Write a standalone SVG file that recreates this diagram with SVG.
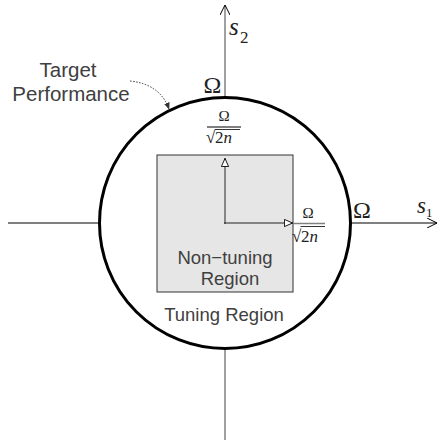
<svg xmlns="http://www.w3.org/2000/svg" width="439" height="442" viewBox="0 0 439 442">
<defs>
<marker id="chev" viewBox="0 0 10 10" refX="10" refY="5" markerWidth="10" markerHeight="10" markerUnits="userSpaceOnUse" orient="auto">
<path d="M0,0 L10,5 L0,10" fill="none" stroke="#000" stroke-width="1"/>
</marker>
<marker id="tri" viewBox="0 0 10 10" refX="10" refY="5" markerWidth="9" markerHeight="9" markerUnits="userSpaceOnUse" orient="auto">
<path d="M0.5,1 L9.5,5 L0.5,9 Z" fill="#fff" stroke="#000" stroke-width="1"/>
</marker>
<marker id="dotarr" viewBox="0 0 10 10" refX="9" refY="5" markerWidth="7" markerHeight="7" markerUnits="userSpaceOnUse" orient="auto">
<path d="M0,1 L10,5 L0,9 Z" fill="#333"/>
</marker>
</defs>
<style>
.lbl{font-family:"Liberation Sans",Arial,sans-serif;fill:#404040;text-anchor:middle}
.math{font-family:"Liberation Serif","Times New Roman",serif;fill:#222}
.it{font-style:italic}
</style>
<rect width="439" height="442" fill="#fff"/>
<g id="connectors">
<line x1="225" y1="98" x2="225" y2="5" stroke="#808080" stroke-width="1.5" marker-end="url(#chev)"/>
<line x1="225" y1="349" x2="225" y2="440" stroke="#808080" stroke-width="1.5"/>
<line x1="8" y1="223" x2="99" y2="223" stroke="#000" stroke-width="1.2"/>
<line x1="350" y1="223" x2="437" y2="223" stroke="#000" stroke-width="1.2" marker-end="url(#chev)"/>
<path d="M130,81 Q160,84 169,109" fill="none" stroke="#333" stroke-width="1" stroke-dasharray="1.5,1.5" marker-end="url(#dotarr)"/>
</g>
<g id="tuning-region">
<circle cx="225" cy="223" r="125.5" fill="none" stroke="#000" stroke-width="3"/>
<text class="lbl" x="224" y="321" font-size="18.5">Tuning Region</text>
</g>
<g id="non-tuning-region">
<rect x="157" y="155" width="136" height="137" fill="#e6e6e6" stroke="#333" stroke-width="1"/>
<text class="lbl" x="225" y="264" font-size="18.5">Non−tuning</text>
<text class="lbl" x="230" y="285" font-size="18.5">Region</text>
</g>
<g id="inner-arrows">
<line x1="225" y1="224" x2="225" y2="158" stroke="#666" stroke-width="1.5" marker-end="url(#tri)"/>
<line x1="224" y1="223" x2="293" y2="223" stroke="#222" stroke-width="1.2" marker-end="url(#tri)"/>
<line x1="293" y1="223.5" x2="325" y2="223.5" stroke="#808080" stroke-width="1.5"/>
</g>
<g id="target-performance">
<text class="lbl" x="68" y="77" font-size="20.5">Target</text>
<text class="lbl" x="71" y="101" font-size="20.5">Performance</text>
</g>
<g id="labels">
<text class="math it" x="229" y="35" font-size="25">s</text>
<text class="math" x="240" y="43" font-size="17">2</text>
<text class="math it" x="417" y="213" font-size="23">s</text>
<text class="math" x="426" y="217" font-size="13">1</text>
<text class="math" x="212.5" y="93" font-size="24" text-anchor="middle">Ω</text>
<text class="math" x="362" y="218" font-size="24" text-anchor="middle">Ω</text>
<text class="math" x="224" y="121" font-size="15" text-anchor="middle">Ω</text>
<line x1="207" y1="127" x2="241" y2="127" stroke="#000" stroke-width="1"/>
<text class="math" x="206" y="143" font-size="17">√</text>
<line x1="215" y1="129.5" x2="240" y2="129.5" stroke="#000" stroke-width="0.8"/>
<text class="math" x="215" y="143" font-size="17">2<tspan class="it">n</tspan></text>
<text class="math" x="308" y="218" font-size="15" text-anchor="middle">Ω</text>
<text class="math" x="292" y="242" font-size="17">√</text>
<line x1="300.5" y1="226.5" x2="325" y2="226.5" stroke="#000" stroke-width="0.8"/>
<text class="math" x="301" y="242" font-size="17">2<tspan class="it">n</tspan></text>
</g>
</svg>
